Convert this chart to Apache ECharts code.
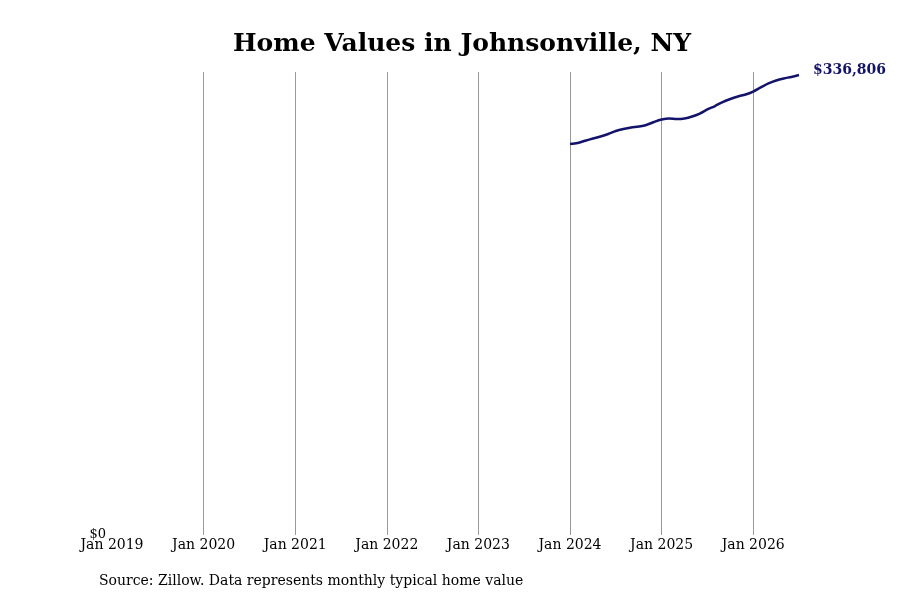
<!DOCTYPE html>
<html>
<head>
<meta charset="utf-8">
<script src="https://cdn.jsdelivr.net/npm/echarts@6/dist/echarts.min.js"></script>
<style>
html, body { margin: 0; padding: 0; background: #fff; }
#main { width: 900px; height: 600px; }
</style>
</head>
<body>
<div id="main"></div>
<script>
// monthly typical home value, Jan 2024 - Jul 2026
var months = ['2024-01','2024-02','2024-03','2024-04','2024-05','2024-06','2024-07','2024-08','2024-09','2024-10','2024-11','2024-12',
              '2025-01','2025-02','2025-03','2025-04','2025-05','2025-06','2025-07','2025-08','2025-09','2025-10','2025-11','2025-12',
              '2026-01','2026-02','2026-03','2026-04','2026-05','2026-06','2026-07'];
var values = [286300, 287000, 288700, 290300, 291800, 293600, 295800, 297300, 298400, 299100, 300200, 302400,
              304200, 305000, 304600, 305000, 306400, 308600, 311600, 314100, 317000, 319200, 321100, 322500,
              324700, 327700, 330600, 332800, 334300, 335400, 336806];
var startYear = 2019;
var tickYears = [2019, 2020, 2021, 2022, 2023, 2024, 2025, 2026];

// months counted from Jan 2019
function monthIndex(s) {
    var p = s.split('-');
    return (parseInt(p[0]) - startYear) * 12 + parseInt(p[1]) - 1;
}
var seriesData = months.map(function (m, i) { return [monthIndex(m), values[i]]; });

var fontSerif = 'DejaVu Serif';
var chart = echarts.init(document.getElementById('main'));
var option = {
    backgroundColor: '#fff',
    animation: false,
    title: {
        text: 'Home Values in Johnsonville, NY',
        left: 228,
        top: 27,
        textStyle: { fontFamily: fontSerif, fontSize: 25, fontWeight: 'bold', color: '#000' }
    },
    graphic: [{
        type: 'text',
        left: 99,
        top: 574,
        style: { text: 'Source: Zillow. Data represents monthly typical home value', font: '14px DejaVu Serif', fill: '#000' }
    }],
    grid: { left: 112, right: 101, top: 72, bottom: 65 },
    xAxis: {
        type: 'value',
        min: 0,
        max: monthIndex(months[months.length - 1]),
        interval: 12,
        axisLine: { show: false },
        axisTick: { show: false },
        splitLine: { show: true, showMinLine: false, showMaxLine: false, lineStyle: { color: '#999', width: 1 } },
        axisLabel: {
            fontFamily: fontSerif, fontSize: 14, color: '#000', margin: 3,
            showMaxLabel: false,
            formatter: function (v) {
                var y = startYear + v / 12;
                return tickYears.indexOf(y) >= 0 ? 'Jan ' + y : '';
            }
        }
    },
    yAxis: {
        type: 'value',
        min: 0,
        max: 339000,
        interval: 339000,
        axisLine: { show: false },
        axisTick: { show: false },
        splitLine: { show: false },
        axisLabel: {
            fontFamily: fontSerif, fontSize: 13, color: '#000', margin: 6,
            formatter: function (v) { return v === 0 ? '$0' : ''; }
        }
    },
    series: [{
        type: 'line',
        data: seriesData,
        showSymbol: false,
        smooth: 0.3,
        lineStyle: { color: '#13136b', width: 2.5 },
        endLabel: {
            show: true,
            distance: 14,
            color: '#13136b',
            fontFamily: fontSerif,
            fontSize: 14,
            fontWeight: 'bold',
            offset: [0, -5],
            formatter: function (p) { return '$' + p.value[1].toLocaleString('en-US'); }
        }
    }]
};
chart.setOption(option);
</script>
</body>
</html>
